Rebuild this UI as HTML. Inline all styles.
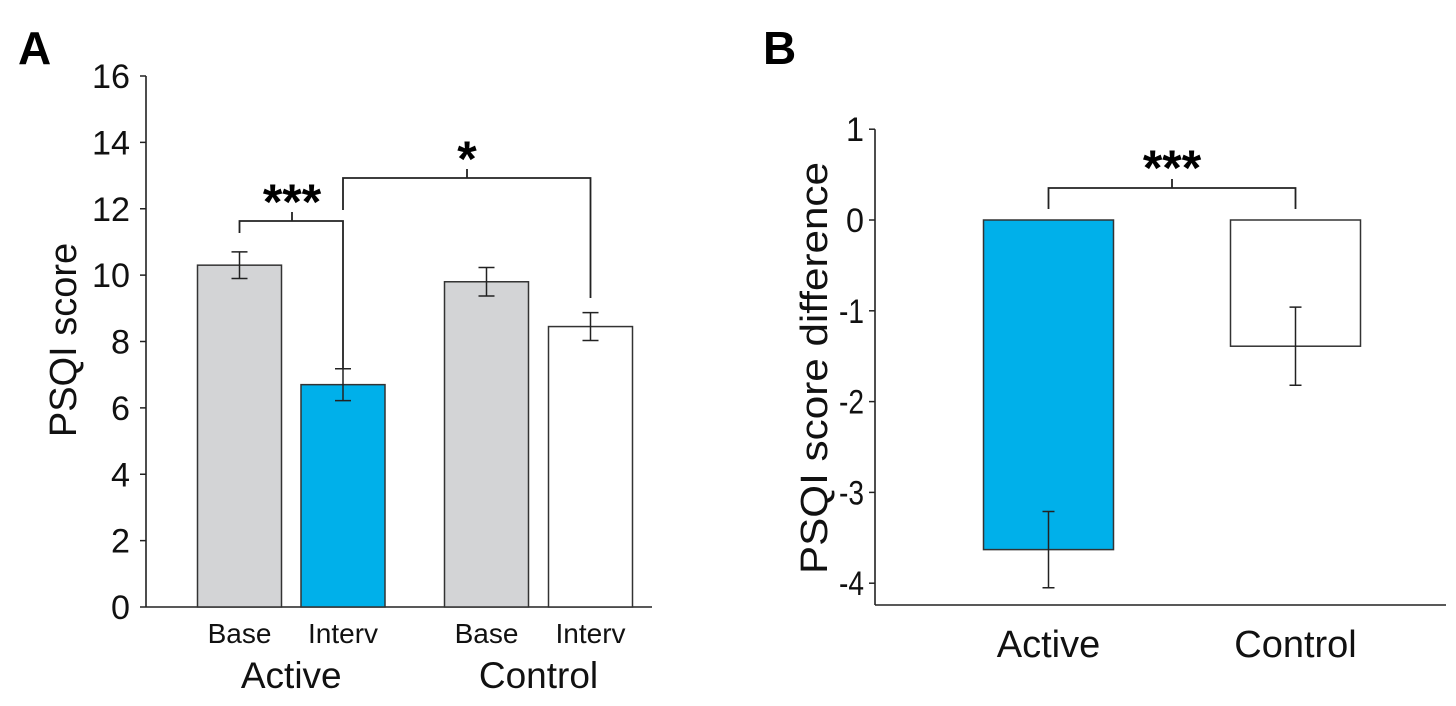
<!DOCTYPE html>
<html><head><meta charset="utf-8"><style>
body{margin:0;background:#fff;}
svg{display:block;font-family:"Liberation Sans",Arial,sans-serif;}
</style></head><body>
<svg id="chart" width="1456" height="706" viewBox="0 0 1456 706">
<text x="18" y="64" font-size="46" font-weight="bold">A</text>
<text x="763" y="64" font-size="46" font-weight="bold">B</text>
<g id="pa"></g>
<g id="pb"></g>
</svg>
<script>
const aCategories=["Base","Interv","Base","Interv"];
const aGroups=["Active","Control"];
const aValues=[10.3,6.7,9.8,8.45];
const aErrors=[0.4,0.48,0.43,0.42];
const aTicks=[0,2,4,6,8,10,12,14,16];
const bCategories=["Active","Control"];
const bValues=[-3.63,-1.39];
const bErrors=[0.42,0.43];
const bTicks=[1,0,-1,-2,-3,-4];

const NS="http://www.w3.org/2000/svg";
function mk(p,t,a){const e=document.createElementNS(NS,t);for(const k in a)e.setAttribute(k,a[k]);p.appendChild(e);return e;}
// Panel A
const pa=document.getElementById('pa');
const ay=v=>607-v*(531/16);
const aX=[239.5,343,486.5,590.5];const aW=84;
const aFill=["#d3d4d6","#00b0ea","#d3d4d6","#ffffff"];
let l=mk(pa,'line',{x1:146,y1:ay(16),x2:146,y2:607,stroke:'#222','stroke-width':1.6});


l=mk(pa,'line',{x1:146,y1:607,x2:652,y2:607,stroke:'#222','stroke-width':1.6});


aTicks.forEach(t=>{
 mk(pa,'line',{x1:140,y1:ay(t),x2:146,y2:ay(t),stroke:'#222','stroke-width':1.5});
 const tx=mk(pa,'text',{x:130,y:ay(t)+12,'font-size':34,'text-anchor':'end',fill:'#111',textLength:t>=10?38:19,lengthAdjust:'spacingAndGlyphs'});tx.textContent=t;
 
 
});
aValues.forEach((v,i)=>{
 const r=mk(pa,'rect',{x:aX[i]-aW/2,y:ay(v),width:aW,height:ay(0)-ay(v),fill:aFill[i],stroke:'#333','stroke-width':1.5});
 
 
 const e=aErrors[i],c=aX[i];
 mk(pa,'path',{d:`M${c},${ay(v+e)}V${ay(v-e)}M${c-8},${ay(v+e)}H${c+8}M${c-8},${ay(v-e)}H${c+8}`,stroke:'#222','stroke-width':1.5,fill:'none'});
 const t=mk(pa,'text',{x:c,y:643,'font-size':28,'text-anchor':'middle',fill:'#111'});t.textContent=aCategories[i];
 
 
});
aGroups.forEach((g,i)=>{
 const t=mk(pa,'text',{x:(aX[2*i]+aX[2*i+1])/2,y:688,'font-size':37,'text-anchor':'middle',fill:'#111'});t.textContent=g;
 
 
});
let yl=mk(pa,'text',{x:0,y:0,'font-size':38,'text-anchor':'middle',fill:'#111',transform:'translate(76,340) rotate(-90)'});yl.textContent='PSQI score';


// brackets A
mk(pa,'path',{d:`M${aX[0]},233V221H${aX[1]}V369M292,221V212`,stroke:'#222','stroke-width':1.8,fill:'none'});
mk(pa,'path',{d:`M${aX[1]},210V178H${aX[3]}V298M467,178V169`,stroke:'#222','stroke-width':1.8,fill:'none'});
let s=mk(pa,'text',{x:292,y:219,'font-size':50,'font-weight':'bold','text-anchor':'middle'});s.textContent='***';


s=mk(pa,'text',{x:467,y:176,'font-size':50,'font-weight':'bold','text-anchor':'middle'});s.textContent='*';


// Panel B
const pb=document.getElementById('pb');
const by=v=>220-v*90.8;
const bX=[1048.5,1295.5];const bW=130;
const bFill=["#00b0ea","#ffffff"];
l=mk(pb,'line',{x1:875,y1:by(1),x2:875,y2:605,stroke:'#222','stroke-width':1.6});


l=mk(pb,'line',{x1:875,y1:605,x2:1446,y2:605,stroke:'#222','stroke-width':1.6});


bTicks.forEach(t=>{
 mk(pb,'line',{x1:869,y1:by(t),x2:875,y2:by(t),stroke:'#222','stroke-width':1.5});
 const tx=mk(pb,'text',{x:864,y:by(t)+12,'font-size':34,'text-anchor':'end',fill:'#111',textLength:t<0?25:18,lengthAdjust:'spacingAndGlyphs'});tx.textContent=t;
 
 
});
bValues.forEach((v,i)=>{
 const r=mk(pb,'rect',{x:bX[i]-bW/2,y:by(0),width:bW,height:by(v)-by(0),fill:bFill[i],stroke:'#333','stroke-width':1.5});
 
 
 const e=bErrors[i],c=bX[i];
 mk(pb,'path',{d:`M${c},${by(v+e)}V${by(v-e)}M${c-6},${by(v+e)}H${c+6}M${c-6},${by(v-e)}H${c+6}`,stroke:'#222','stroke-width':1.5,fill:'none'});
 const t=mk(pb,'text',{x:c,y:657,'font-size':38,'text-anchor':'middle',fill:'#111'});t.textContent=bCategories[i];
 
 
});
yl=mk(pb,'text',{x:0,y:0,'font-size':38,'text-anchor':'middle',fill:'#111',textLength:412,lengthAdjust:'spacingAndGlyphs',transform:'translate(827,368) rotate(-90)'});yl.textContent='PSQI score difference';


mk(pb,'path',{d:`M${bX[0]},209V188H${bX[1]}V209M1172,188V179`,stroke:'#222','stroke-width':1.8,fill:'none'});
s=mk(pb,'text',{x:1172,y:185,'font-size':50,'font-weight':'bold','text-anchor':'middle'});s.textContent='***';


</script>
</body></html>
